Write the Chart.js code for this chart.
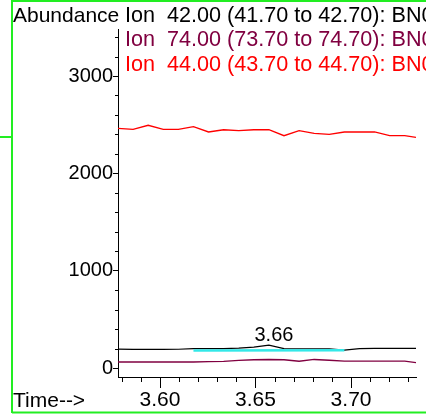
<!DOCTYPE html>
<html>
<head>
<meta charset="utf-8">
<script src="https://cdn.jsdelivr.net/npm/chart.js@4"></script>
<style>
html,body{margin:0;padding:0;background:#fff;}
#wrap{position:relative;width:426px;height:415px;}
</style>
</head>
<body>
<div id="wrap"><canvas id="c" width="426" height="415"></canvas></div>
<script>
// ---- data ----
const times = [3.578, 3.5859, 3.5938, 3.6017, 3.6096, 3.6175, 3.6254, 3.6333, 3.6412, 3.6491, 3.657, 3.6649, 3.6728, 3.6807, 3.6886, 3.6965, 3.7044, 3.7123, 3.7202, 3.7281, 3.734];
const ion42 = [194, 192, 192, 192, 193, 200, 200, 200, 205, 215, 236, 200, 198, 198, 198, 185, 200, 203, 203, 203, 203];
const ion74 = [62, 62, 62, 62, 62, 62, 65, 68, 78, 85, 88, 85, 70, 88, 80, 72, 72, 72, 72, 72, 56];
const ion44 = [2463, 2452, 2494, 2452, 2452, 2479, 2425, 2448, 2438, 2448, 2448, 2387, 2438, 2411, 2401, 2425, 2425, 2425, 2387, 2387, 2370];
const baselineTimes = [3.6175, 3.6965];
const baselineValues = [180, 182];
const seriesNames = ["Ion  42.00 (41.70 to 42.70): BN0", "Ion  74.00 (73.70 to 74.70): BN0", "Ion  44.00 (43.70 to 44.70): BN0"];
const seriesColors = ["#000000", "#800040", "#ff0000"];
const peakTime = 3.657;
const peakValue = 236;
const peakLabel = "3.66";
const xMajorTicks = [3.60, 3.65, 3.70];
const xMinorTicks = [3.58, 3.59, 3.61, 3.62, 3.63, 3.64, 3.66, 3.67, 3.68, 3.69, 3.71, 3.72, 3.73];
const yMajorTicks = [0, 1000, 2000, 3000];
const yMinorTicks = [200, 400, 600, 800, 1200, 1400, 1600, 1800, 2200, 2400, 2600, 2800, 3200, 3400];
const yAxisTitle = "Abundance";
const xAxisTitle = "Time-->";

const FONT = "'Liberation Sans', Arial, sans-serif";

function pts(xs, ys){ return xs.map((x,i)=>({x:x, y:ys[i]})); }

const decor = {
  id: 'decor',
  afterDraw(chart){
    const ctx = chart.ctx;
    const xs = chart.scales.x, ys = chart.scales.y;
    const ca = chart.chartArea;
    ctx.save();
    // minor ticks
    ctx.strokeStyle = '#000';
    ctx.lineWidth = 1;
    ctx.beginPath();
    xMinorTicks.forEach(v=>{
      const px = Math.round(xs.getPixelForValue(v)) + 0.5;
      ctx.moveTo(px, ca.bottom); ctx.lineTo(px, ca.bottom + 5);
    });
    yMinorTicks.forEach(v=>{
      const py = Math.round(ys.getPixelForValue(v)) + 0.5;
      ctx.moveTo(ca.left - 3, py); ctx.lineTo(ca.left, py);
    });
    ctx.stroke();
    // titles
    ctx.font = '21px ' + FONT;
    ctx.textBaseline = 'alphabetic';
    ctx.textAlign = 'left';
    ctx.fillStyle = '#000';
    ctx.fillText(yAxisTitle, 13, 22);
    ctx.fillText(xAxisTitle, 13, 407);
    // legend text
    ctx.font = '21.6px ' + FONT;
    seriesNames.forEach((s,i)=>{
      ctx.fillStyle = seriesColors[i];
      ctx.fillText(s, 125, 22 + i*24.3);
    });
    // peak label
    ctx.fillStyle = '#000';
    ctx.textAlign = 'center';
    ctx.font = '20px ' + FONT;
    ctx.fillText(peakLabel, xs.getPixelForValue(peakTime) + 5, ys.getPixelForValue(peakValue) - 4);
    // green frame
    ctx.strokeStyle = '#22ee22';
    ctx.lineWidth = 2;
    ctx.beginPath();
    ctx.moveTo(12, 0); ctx.lineTo(12, 413);
    ctx.moveTo(12, 1); ctx.lineTo(426, 1);
    ctx.moveTo(12, 412.5); ctx.lineTo(426, 412.5);
    ctx.moveTo(0, 137); ctx.lineTo(12, 137);
    ctx.stroke();
    ctx.restore();
  }
};

new Chart(document.getElementById('c'), {
  type: 'line',
  data: {
    datasets: [
      {label: seriesNames[2], data: pts(times, ion44), borderColor: seriesColors[2], borderWidth: 1.3},
      {label: seriesNames[1], data: pts(times, ion74), borderColor: seriesColors[1], borderWidth: 1.3},
      {label: 'baseline', data: pts(baselineTimes, baselineValues), borderColor: '#33e8e8', borderWidth: 2.5},
      {label: seriesNames[0], data: pts(times, ion42), borderColor: seriesColors[0], borderWidth: 1.2}
    ]
  },
  options: {
    responsive: false,
    animation: false,
    devicePixelRatio: 1,
    elements: { point: { radius: 0 }, line: { tension: 0, fill: false } },
    layout: { padding: { left: 0, top: 29, right: 10, bottom: 0 } },
    plugins: { legend: { display: false }, tooltip: { enabled: false }, title: { display: false } },
    scales: {
      x: {
        type: 'linear',
        min: 3.578, max: 3.734,
        afterBuildTicks: s => { s.ticks = xMajorTicks.map(v=>({value:v})); },
        afterFit: s => { s.height = 38; },
        ticks: { color: '#000', font: { family: FONT, size: 21 }, padding: 0, maxRotation: 0,
                 callback: v => v.toFixed(2) },
        grid: { drawOnChartArea: false, drawTicks: true, tickLength: 11, color: '#000' },
        border: { display: true, color: '#000', width: 1 }
      },
      y: {
        type: 'linear',
        min: -92, max: 3483,
        afterBuildTicks: s => { s.ticks = yMajorTicks.map(v=>({value:v})); },
        afterFit: s => { s.width = 118; },
        ticks: { color: '#000', font: { family: FONT, size: 20 }, padding: 0,
                 callback: v => String(v) },
        grid: { drawOnChartArea: false, drawTicks: true, tickLength: 5, color: '#000' },
        border: { display: true, color: '#000', width: 1 }
      }
    }
  },
  plugins: [decor]
});
</script>
</body>
</html>
